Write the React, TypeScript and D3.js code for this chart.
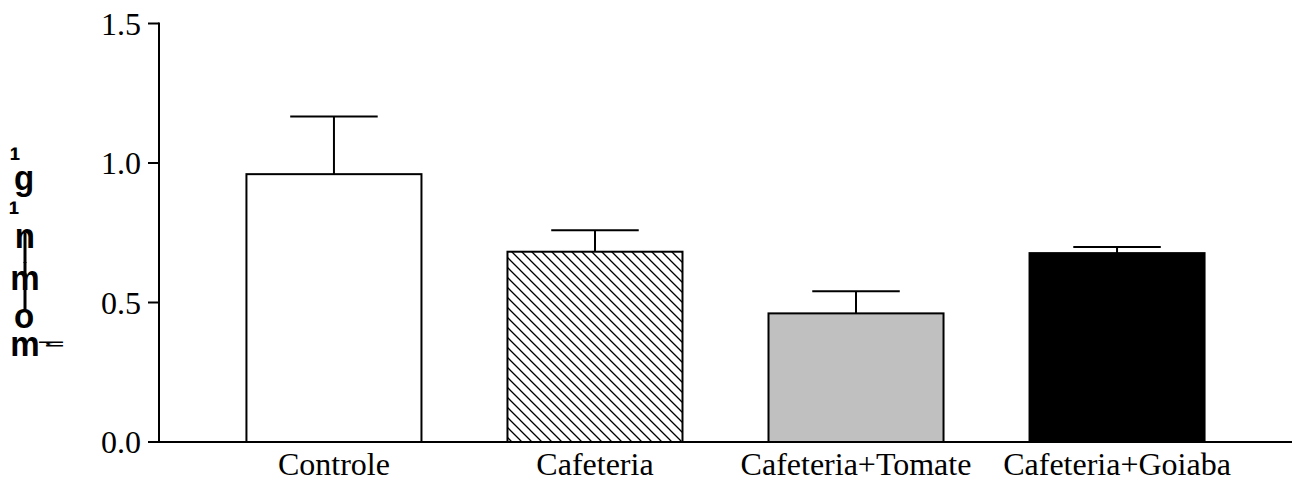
import React from "react";
import * as d3 from "d3";

const categories = ["Controle", "Cafeteria", "Cafeteria+Tomate", "Cafeteria+Goiaba"];
const means = [0.96, 0.682, 0.461, 0.677];
const errors = [0.207, 0.077, 0.079, 0.022];
const fills = ["#ffffff", "url(#hatch)", "#c0c0c0", "#000000"];
const yTicks = [0.0, 0.5, 1.0, 1.5];
const yLabelGlyphs = "¹g¹nmom";

const W = 1293;
const H = 481;
const left = 159;
const right = 1292;
const top = 23.5;
const bottom = 442;

export default function App() {
  const x = d3
    .scaleBand<string>()
    .domain(categories)
    .range([left, right])
    .paddingInner(0.3295)
    .paddingOuter(0.335);
  const y = d3.scaleLinear().domain([0, 1.5]).range([bottom, top]);
  const bw = x.bandwidth();
  const capW = bw / 2;
  const serif = "'Liberation Serif', 'Times New Roman', serif";
  const sans = "'Liberation Sans', Arial, sans-serif";
  const sx = 0.92;
  const gx = [15, 24, 14, 25, 25, 24, 25].map((v) => (v / sx).toFixed(2)).join(" ");
  const gy = [172.5, 190, 226.5, 248, 290, 328, 356].join(" ");

  return (
    <svg
      width={W}
      height={H}
      style={{ position: "absolute", left: 0, top: 0, background: "#fff" }}
    >
      <defs>
        <pattern id="hatch" patternUnits="userSpaceOnUse" width={10} height={10}>
          <rect width={10} height={10} fill="#fff" />
          <path d="M-5,-5 L15,15 M-5,5 L5,15 M5,-5 L15,5" stroke="#000" strokeWidth={1.3} />
        </pattern>
      </defs>

      {/* error bars */}
      {categories.map((c, i) => {
        const cx = (x(c) as number) + bw / 2;
        const yt = y(means[i] + errors[i]);
        return (
          <g key={"e" + c} stroke="#000" strokeWidth={2}>
            <line x1={cx} x2={cx} y1={y(means[i])} y2={yt} />
            <line x1={cx - capW / 2} x2={cx + capW / 2} y1={yt} y2={yt} />
          </g>
        );
      })}

      {/* bars */}
      {categories.map((c, i) => (
        <rect
          key={c}
          x={x(c) as number}
          y={y(means[i])}
          width={bw}
          height={bottom - y(means[i])}
          fill={fills[i]}
          stroke="#000"
          strokeWidth={2}
        />
      ))}

      {/* axes */}
      <line x1={left} x2={left} y1={top - 1} y2={bottom + 1} stroke="#000" strokeWidth={2} />
      <line x1={left - 1} x2={right} y1={bottom} y2={bottom} stroke="#000" strokeWidth={2} />
      {yTicks.map((t) => (
        <g key={t}>
          <line x1={left - 11} x2={left} y1={y(t)} y2={y(t)} stroke="#000" strokeWidth={2} />
          <text
            x={141}
            y={y(t) + 11}
            textAnchor="end"
            fontFamily={serif}
            fontSize={32}
            fill="#000"
          >
            {t.toFixed(1)}
          </text>
        </g>
      ))}
      {categories.map((c) => (
        <text
          key={"l" + c}
          x={(x(c) as number) + bw / 2}
          y={475}
          textAnchor="middle"
          fontFamily={serif}
          fontSize={32}
          fill="#000"
        >
          {c}
        </text>
      ))}

      {/* garbled y-axis label (stacked glyphs as in reference) */}
      <line x1={25} x2={25} y1={233} y2={263} stroke="#000" strokeWidth={3} />
      <line x1={25} x2={25} y1={262} y2={310} stroke="#000" strokeWidth={3} />
      <text
        transform={`scale(${sx},1)`}
        x={gx}
        y={gy}
        fontFamily={sans}
        fontWeight="bold"
        fontSize={36}
        fill="#000"
        textAnchor="middle"
      >
        {yLabelGlyphs}
      </text>
      <text
        transform="translate(46,344) rotate(90) scale(0.55,1.6)"
        fontFamily={sans}
        fontWeight="bold"
        fontSize={20}
        textAnchor="middle"
        fill="#000"
      >
        µ
      </text>
    </svg>
  );
}
